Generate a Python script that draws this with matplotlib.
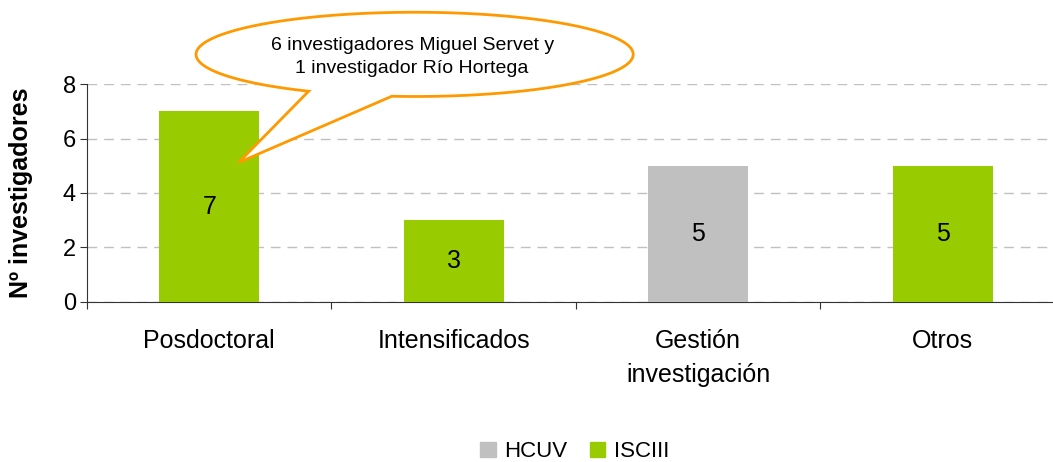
import numpy as np
import matplotlib
matplotlib.use("Agg")
import matplotlib.pyplot as plt
from matplotlib.path import Path
from matplotlib.patches import PathPatch, Patch

plt.rcParams['font.family'] = ['Liberation Sans', 'DejaVu Sans']

# Datos
categorias = ["Posdoctoral", "Intensificados", "Gestión\ninvestigación", "Otros"]
valores = [7, 3, 5, 5]
origen = ["ISCIII", "ISCIII", "HCUV", "ISCIII"]
colores = {"HCUV": "#C0C0C0", "ISCIII": "#99CC00"}
nota = "6 investigadores Miguel Servet y\n1 investigador Río Hortega"

fig = plt.figure(figsize=(10.53, 4.62), dpi=100)
ax = fig.add_axes([0.0826, 0.347, 0.9288, 0.4706])

x = np.arange(len(categorias))
ax.bar(x, valores, width=0.41, color=[colores[o] for o in origen], zorder=3)
for xi, v in zip(x, valores):
    ax.text(xi, v / 2, str(v), ha='center', va='center', fontsize=18, zorder=4)

ax.set_xlim(-0.5, len(categorias) - 0.5)
ax.set_ylim(0, 8)
ax.set_yticks([0, 2, 4, 6, 8])
ax.tick_params(axis='y', labelsize=17, length=5, pad=3, color='#333333')
ax.yaxis.grid(True, color='#C0C0C0', linestyle=(0, (7, 5)), linewidth=1, zorder=0)

# ticks entre categorias, etiquetas centradas
ax.set_xticks(np.arange(len(categorias) + 1) - 0.5)
ax.set_xticklabels([])
ax.set_xticks(x, minor=True)
ax.set_xticklabels(categorias, minor=True, fontsize=18, linespacing=1.5)
ax.tick_params(axis='x', which='minor', length=0, pad=20)
ax.tick_params(axis='x', which='major', length=5, color='#333333')

for s in ['top', 'right']:
    ax.spines[s].set_visible(False)
for s in ['left', 'bottom']:
    ax.spines[s].set_color('#333333')

ax.set_ylabel("Nº investigadores", fontsize=18, fontweight='bold')
ax.yaxis.set_label_coords(-0.0552, 0.5)

# bocadillo
cx, cy, a, b = 0.84, 9.1, 0.894, 1.55
t1, t2 = np.deg2rad(241), np.deg2rad(264)
t = np.linspace(t2, t1 + 2 * np.pi, 200)
px = list(cx + a * np.cos(t)) + [0.12]
py = list(cy + b * np.sin(t)) + [5.12]
verts = list(zip(px, py)) + [(px[0], py[0])]
codes = [Path.MOVETO] + [Path.LINETO] * (len(verts) - 2) + [Path.CLOSEPOLY]
ax.add_patch(PathPatch(Path(verts, codes), facecolor='white', edgecolor='#FF9900',
                       linewidth=2, clip_on=False, zorder=5))
ax.text(cx - 0.01, cy - 0.1, nota, ha='center', va='center', fontsize=14,
        linespacing=1.45, zorder=6, clip_on=False)

handles = [Patch(color=colores["HCUV"], label="HCUV"),
           Patch(color=colores["ISCIII"], label="ISCIII")]
fig.legend(handles=handles, loc='center', bbox_to_anchor=(0.546, 0.022), ncol=2,
           frameon=False, fontsize=16, handlelength=0.7, handleheight=0.7,
           handletextpad=0.4, columnspacing=1.0)

fig.savefig("out.png", dpi=100)
